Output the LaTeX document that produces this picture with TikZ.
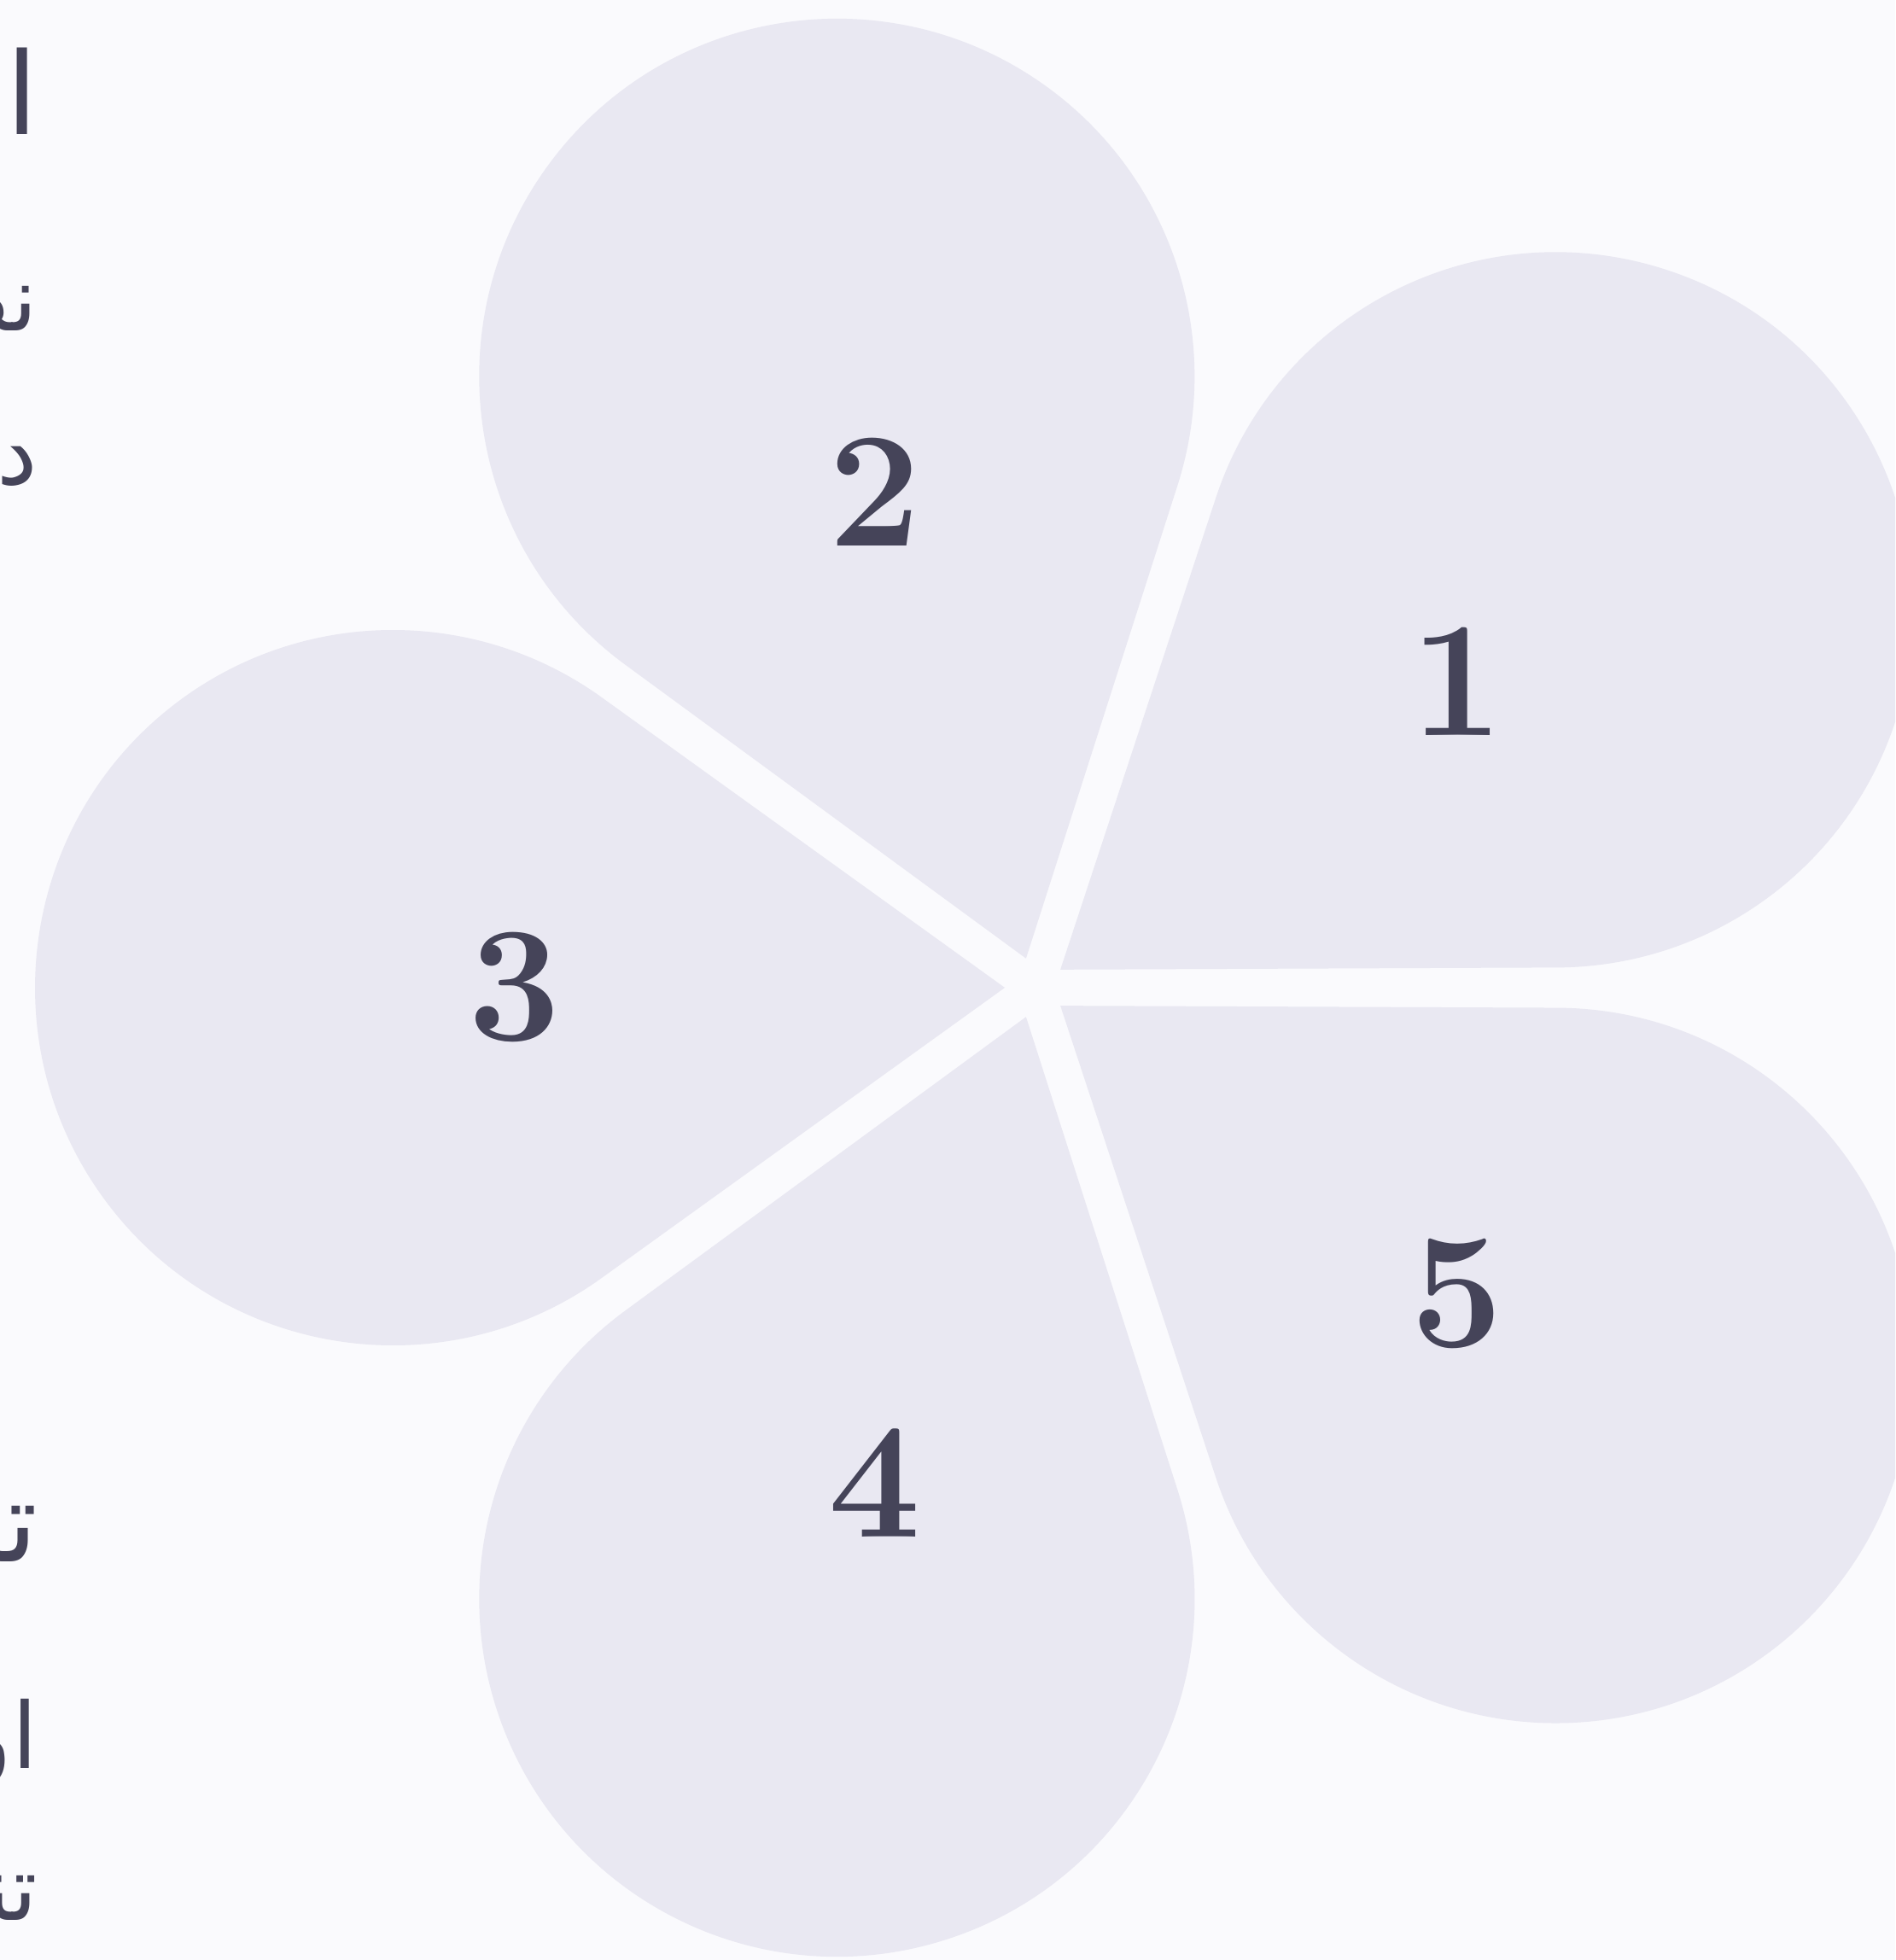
\documentclass[tikz,border=0pt]{standalone}
\usepackage{fontspec}
\usetikzlibrary{calc}
\newfontfamily\arabicfont[Script=Arabic]{DejaVu Sans}
\TeXXeTstate=1
\definecolor{bg}{HTML}{FAFAFD}
\definecolor{petal}{HTML}{E9E8F2}
\definecolor{ink}{HTML}{454459}
\begin{document}
\begin{tikzpicture}[
  petalshape/.style={fill=petal},
  numlabel/.style={text=ink, font=\fontsize{54.8}{60}\selectfont\bfseries, inner sep=0pt},
  headtext/.style={text=ink, font=\arabicfont\fontsize{38}{44}\selectfont, anchor=base east, inner sep=0pt},
  bodytext/.style={text=ink, font=\arabicfont\fontsize{30.4}{36}\selectfont, anchor=base east, inner sep=0pt}]
\useasboundingbox (0,0) rectangle (22.2,22.96);
\fill[bg] (0,0) rectangle (22.2,22.96);
\clip (0,0) rectangle (22.2,22.96);
\coordinate (c) at (12.13,11.39);
\foreach \i/\a in {1/36,2/108,3/180,4/252,5/324} {
  \begin{scope}[shift={(c)}, rotate=\a]
    \fill[petalshape] (0.36,0) -- (5.081,3.400) arc[start angle=125.76, end angle=-125.76, radius=4.19] -- cycle;
  \end{scope}
  \node[numlabel] (n\i) at ($(c)+(\a:6.1)$) {\i};
}
\node[headtext] (h1) at (0.45,21.38) {\beginR اهداف المشروع\endR};
\node[bodytext] (b1) at (0.45,19.08) {\beginR نص توضيحي للمحتوى\endR};
\node[bodytext] (b2) at (0.45,17.28) {\beginR دون تفاصيل إضافية\endR};
\node[headtext] (h2) at (0.45,4.66) {\beginR تحليل النتائج\endR};
\node[bodytext] (b3) at (0.45,2.24) {\beginR اولويات العمل\endR};
\node[bodytext] (b4) at (0.45,0.46) {\beginR تنفيذ الخطة\endR};
\end{tikzpicture}
\end{document}
